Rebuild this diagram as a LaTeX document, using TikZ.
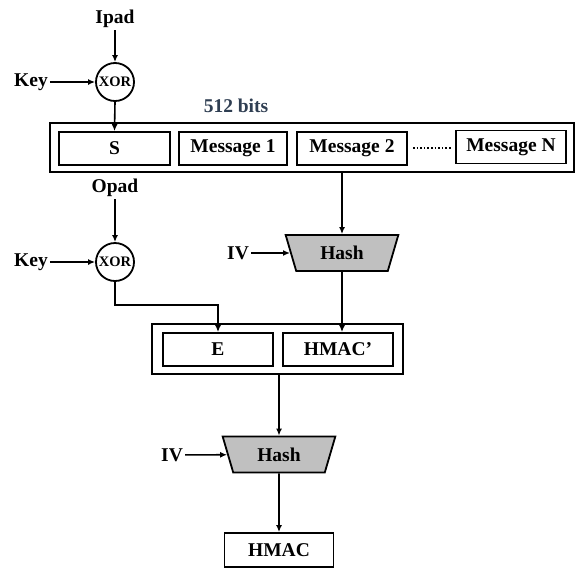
\documentclass[tikz,border=0pt]{standalone}
\usepackage{fontspec}
\setmainfont{Liberation Serif}
\usetikzlibrary{arrows.meta,shapes.geometric}
\definecolor{hashgray}{RGB}{192,192,192}
\definecolor{bitscol}{RGB}{47,62,82}
\begin{document}
\begin{tikzpicture}[x=1pt,y=-1pt,
  lbl/.style={font=\fontsize{19.5}{23}\selectfont\bfseries, inner sep=2pt},
  box/.style={draw, line width=1.8pt, font=\fontsize{19.5}{23}\selectfont\bfseries, minimum height=33pt, minimum width=110pt, inner sep=0pt},
  outer/.style={draw, line width=1.8pt, inner sep=0pt},
  xorc/.style={draw, circle, line width=1.8pt, minimum size=38pt, inner sep=0pt, font=\fontsize{14.5}{16}\selectfont\bfseries},
  hashbox/.style={draw, trapezium, shape border rotate=180, trapezium stretches=true, trapezium left angle=70, trapezium right angle=70, minimum width=113pt, minimum height=36pt, fill=hashgray, line width=1.8pt, inner sep=0pt, font=\fontsize{19.5}{23}\selectfont\bfseries},
  arr/.style={-{Latex[length=7pt,width=6pt]}, line width=1.6pt},
  ln/.style={line width=1.6pt}]
\useasboundingbox (0,0) rectangle (576,568);
% top part
\node[lbl] (ipad) at (115,19) {Ipad};
\node[xorc] (xor1) at (115,82) {XOR};
\node[lbl] (key1) at (31,82) {Key};
\node[lbl, text=bitscol] (bits) at (236,106) {512 bits};
\node[outer, minimum width=524pt, minimum height=49pt] (out1) at (312,147.5) {};
\node[box, minimum width=111pt] (s) at (114.5,148.5) {S};
\node[box, minimum width=108pt] (m1) at (233,148.5) {Message 1};
\node[box] (m2) at (352,148.5) {Message 2};
\node[box] (mn) at (511,147) {Message N};
\coordinate (d1) at (413,148);
\coordinate (d2) at (452,148);
\draw[dotted, line width=1.6pt] (d1) -- (d2);
\draw[arr] (ipad) -- (xor1);
\draw[arr] (key1) -- (xor1);
\draw[arr] (xor1.south) -- (s.north);
% hash 1
\node[hashbox] (hash1) at (342,253) {Hash};
\node[lbl] (iv1) at (238,253) {IV};
\coordinate (m2out) at (342,172);
\draw[arr] (m2out) -- (hash1.north);
\draw[arr] (iv1) -- (hash1);
% opad part
\node[lbl] (opad) at (115,188) {Opad};
\node[xorc] (xor2) at (115,262) {XOR};
\node[lbl] (key2) at (31,262) {Key};
\draw[arr] (opad) -- (xor2);
\draw[arr] (key2) -- (xor2);
% second block
\node[outer, minimum width=251pt, minimum height=50pt] (out2) at (277.5,349) {};
\node[box] (e) at (218,349.5) {E};
\node[box] (hp) at (338,349.5) {HMAC’};
\coordinate (bend) at (115,305);
\draw[arr] (xor2.south) -- (bend) -| (e.north);
\draw[arr] (hash1.south) -- (hash1.south |- hp.north);
% hash 2
\node[hashbox] (hash2) at (279,454.5) {Hash};
\node[lbl] (iv2) at (172,455) {IV};
\node[box, minimum width=109pt, minimum height=34pt] (hmac) at (279,550) {HMAC};
\draw[arr] (out2.south -| hash2.north) -- (hash2.north);
\draw[arr] (iv2) -- (hash2);
\draw[arr] (hash2.south) -- (hmac.north);
\end{tikzpicture}
\end{document}
